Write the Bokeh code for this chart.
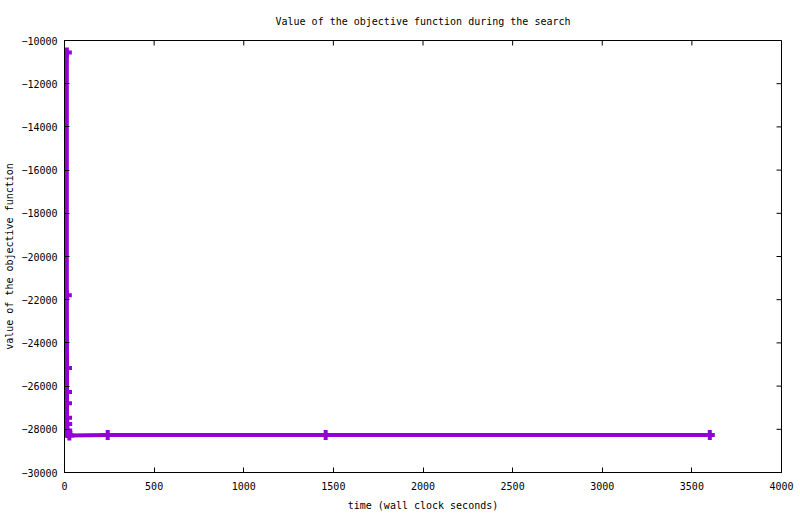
import math
from bokeh.plotting import figure
from bokeh.models import Range1d, FixedTicker, ColumnDataSource
from bokeh.embed import file_html
from bokeh.resources import INLINE

# data (time in wall-clock seconds, objective value)
times = [13, 13, 14, 14, 14, 14, 15, 15, 16, 27, 241, 1457, 3600]
values = [-10550, -21790, -25160, -26270, -26790, -27470, -27750, -28060,
          -28170, -28290, -28260, -28260, -28260]
x_ticks = [0, 500, 1000, 1500, 2000, 2500, 3000, 3500, 4000]
y_ticks = [-30000, -28000, -26000, -24000, -22000, -20000, -18000, -16000,
           -14000, -12000, -10000]
x_min, x_max = 0, 4000
y_min, y_max = -30000, -10000

COLOR = "#9400D3"
FONT = "DejaVu Sans Mono"

p = figure(width=800, height=514, output_backend="svg", toolbar_location=None,
           x_range=Range1d(x_min, x_max), y_range=Range1d(y_min, y_max),
           title="Value of the objective function during the search",
           min_border_left=64, min_border_right=19, min_border_top=39,
           min_border_bottom=42)
p.title.align = "center"
p.title.text_font = FONT
p.title.text_font_size = "10px"
p.title.text_font_style = "normal"
p.title.text_color = "black"
p.title.standoff = 27

p.xgrid.visible = False
p.ygrid.visible = False
p.outline_line_color = "black"
p.outline_line_width = 1
p.background_fill_color = "white"
p.border_fill_color = "white"

for ax in (p.xaxis[0], p.yaxis[0]):
    ax.major_tick_in = 5
    ax.major_tick_out = 0
    ax.minor_tick_line_color = None
    ax.major_tick_line_color = "black"
    ax.major_label_text_font = FONT
    ax.major_label_text_font_size = "10px"
    ax.major_label_text_color = "black"
    ax.axis_label_text_font = FONT
    ax.axis_label_text_font_size = "10px"
    ax.axis_label_text_font_style = "normal"
    ax.axis_label_text_color = "black"
    ax.axis_line_color = "black"

p.xaxis[0].ticker = FixedTicker(ticks=x_ticks)
p.yaxis[0].ticker = FixedTicker(ticks=y_ticks)
p.xaxis[0].axis_label = "time (wall clock seconds)"
p.yaxis[0].axis_label = "value of the objective function"
p.xaxis[0].major_label_standoff = 9
p.xaxis[0].axis_label_standoff = 7
p.yaxis[0].major_label_standoff = 7
p.yaxis[0].axis_label_standoff = 3

# mirrored ticks on the top and right borders (half of each dash is clipped by the frame)
p.scatter(x=x_ticks, y=[y_max] * len(x_ticks), marker="dash", angle=math.pi / 2,
          size=10, line_color="black", line_width=1)
p.scatter(x=[x_max] * len(y_ticks), y=y_ticks, marker="dash",
          size=10, line_color="black", line_width=1)

src = ColumnDataSource(data=dict(t=times, v=values))
p.line("t", "v", source=src, line_color=COLOR, line_width=4)
p.scatter("t", "v", source=src, marker="cross", size=10, line_color=COLOR, line_width=4)

open("out.html", "w").write(file_html(p, INLINE))
